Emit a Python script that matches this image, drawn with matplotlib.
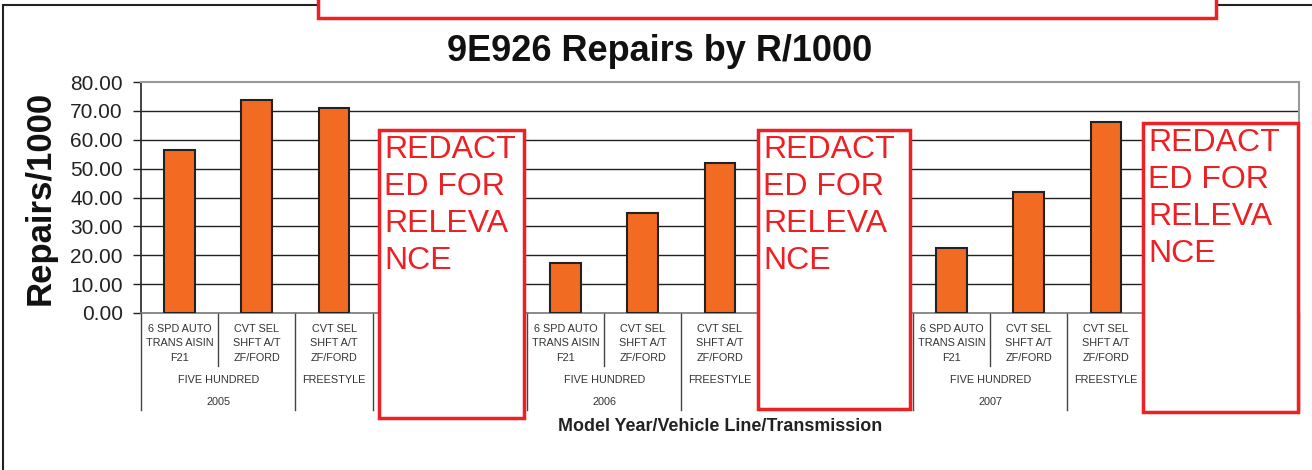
import numpy as np
import matplotlib.pyplot as plt
from matplotlib.patches import Rectangle
from matplotlib.transforms import blended_transform_factory

plt.rcParams['font.family'] = ['Liberation Sans', 'DejaVu Sans']

# data (hidden categories sit under the redaction boxes)
years = ["2005", "2006", "2007"]
vehicle_lines = ["FIVE HUNDRED", "FREESTYLE", ""]
vehicle_span = [2, 1, 2]
transmissions = ["6 SPD AUTO\nTRANS AISIN\nF21", "CVT SEL\nSHFT A/T\nZF/FORD",
                 "CVT SEL\nSHFT A/T\nZF/FORD", "", ""]
r2005 = [56.3, 73.9, 70.9, np.nan, np.nan]
r2006 = [17.2, 34.8, 52.1, np.nan, np.nan]
r2007 = [22.6, 42.0, 66.0, np.nan, np.nan]
yticks = [0, 10, 20, 30, 40, 50, 60, 70, 80]

W, H = 1312, 470
values = r2005 + r2006 + r2007
n = len(values)
x = np.arange(n)

fig = plt.figure(figsize=(W / 100, H / 100), dpi=100)
ax = fig.add_axes([141 / W, 1 - 313 / H, (1299 - 141) / W, (313 - 82) / H])

ax.hlines(yticks[1:-1], -0.5, n - 0.5, colors='#222222', lw=1, zorder=1)
ax.bar(x, values, width=0.4, color='#F26B22', edgecolor='#222222', linewidth=1.5, zorder=3)

ax.set_xlim(-0.5, n - 0.5)
ax.set_ylim(0, 80)
ax.set_xticks([])
ax.set_yticks(yticks)
ax.set_yticklabels(["%.2f" % v for v in yticks])
ax.tick_params(axis='y', direction='out', length=6, width=1, pad=7,
               labelsize=15, labelcolor='#222222', color='#222222')
ax.spines['left'].set_color('#222222')
ax.spines['left'].set_linewidth(1.2)
for s in ['top', 'right']:
    ax.spines[s].set_color('#999999')
    ax.spines[s].set_linewidth(1.5)
ax.spines['bottom'].set_color('#777777')
ax.spines['bottom'].set_linewidth(1.2)

# multi-level category axis
tr = blended_transform_factory(ax.transData, ax.transAxes)
short, deep = -0.229, -0.42
per_year = len(transmissions)
for yi, yr in enumerate(years):
    start = yi * per_year
    for j, lab in enumerate(transmissions):
        ax.text(start + j, -0.132, lab, transform=tr, ha='center', va='center',
                fontsize=7.8, color='#333333', linespacing=1.55)
    pos = start
    for vl, sp in zip(vehicle_lines, vehicle_span):
        ax.text(pos + (sp - 1) / 2, -0.29, vl, transform=tr, ha='center', va='center',
                fontsize=7.8, color='#333333')
        ax.plot([pos - 0.5, pos - 0.5], [0, deep], transform=tr, color='#444444',
                lw=1, clip_on=False)
        for k in range(1, sp):
            ax.plot([pos + k - 0.5] * 2, [0, short], transform=tr, color='#444444',
                    lw=1, clip_on=False)
        pos += sp
    # year label sits under the first vehicle line
    ax.text(start + (vehicle_span[0] - 1) / 2, -0.385, yr, transform=tr, ha='center',
            va='center', fontsize=7.8, color='#333333')
ax.plot([n - 0.5, n - 0.5], [0, deep], transform=tr, color='#444444', lw=1, clip_on=False)

ax.text(0.5, -0.4935, "Model Year/Vehicle Line/Transmission", transform=ax.transAxes,
        ha='center', va='center', fontsize=12.9, fontweight='bold', color='#222222')
fig.text(40 / W, 1 - 198 / H, "Repairs/1000", rotation=90, ha='center', va='center',
         fontsize=25, fontweight='bold', color='#111111')
fig.text(660 / W, 1 - 52 / H, "9E926 Repairs by R/1000", ha='center', va='center',
         fontsize=26, fontweight='bold', color='#111111')

# outer frame
fig.add_artist(Rectangle((3 / W, -0.1), 1.2, 1.1 - 5 / H, transform=fig.transFigure,
                         fill=False, edgecolor='#222222', lw=1.5, zorder=1))

# redaction boxes (pixel boxes: left, top, right, bottom)
red = '#ED2024'
boxes = [(318, -10, 1216, 18), (379, 130, 524, 418), (758, 130, 910, 409), (1143, 123, 1298, 412)]
for i, (l, t, r, b) in enumerate(boxes):
    fig.add_artist(Rectangle((l / W, 1 - b / H), (r - l) / W, (b - t) / H,
                             transform=fig.transFigure, facecolor='white',
                             edgecolor=red, lw=2.5, zorder=2))
    if i > 0:
        fig.text((l + 5) / W, 1 - (t + 5) / H, "REDACT\nED FOR\nRELEVA\nNCE",
                 ha='left', va='top', fontsize=23, color=red, linespacing=1.3,
                 zorder=3)

fig.savefig("out.png", dpi=100)
